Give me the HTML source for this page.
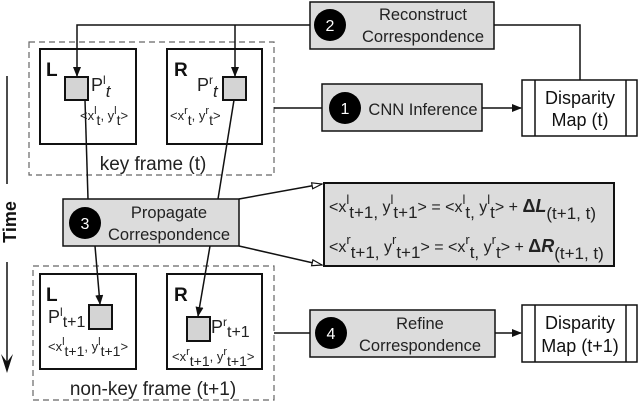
<!DOCTYPE html>
<html><head><style>
html,body{margin:0;padding:0;background:#fff;}
svg{display:block;font-family:"Liberation Sans",sans-serif;}
</style></head><body>
<svg width="640" height="402" viewBox="0 0 640 402" xmlns="http://www.w3.org/2000/svg">
<defs>
<marker id="a" markerWidth="10" markerHeight="8" refX="9" refY="4" orient="auto" markerUnits="userSpaceOnUse"><path d="M0,0 L10,4 L0,8 z" fill="#111"/></marker>
<marker id="o" markerWidth="12" markerHeight="8" refX="11" refY="4" orient="auto" markerUnits="userSpaceOnUse"><path d="M1,1 L11,4 L1,7 z" fill="#fff" stroke="#111" stroke-width="1.2"/></marker>
</defs>
<g stroke="#111" stroke-width="1.5" fill="none">
<line x1="7" y1="76" x2="7" y2="184"/>
<line x1="7" y1="262" x2="7" y2="362"/>
<path d="M1,354 L7,373 L13,354 L7,362 z" fill="#111" stroke="none"/>
<rect x="29" y="42" width="245" height="133" stroke="#666" stroke-width="1.2" stroke-dasharray="6,4"/>
<rect x="33" y="266" width="241" height="134" stroke="#666" stroke-width="1.2" stroke-dasharray="6,4"/>
<rect x="40" y="49" width="96" height="95" stroke-width="2"/>
<rect x="167" y="49" width="95" height="95" stroke-width="2"/>
<rect x="40" y="274" width="96" height="95" stroke-width="2"/>
<rect x="167" y="274" width="95" height="95" stroke-width="2"/>
<polyline points="310,25 77,25 77,76" marker-end="url(#a)"/>
<line x1="235" y1="25" x2="235" y2="76" marker-end="url(#a)"/>
<polyline points="494,25 580,25 580,80"/>
<line x1="274" y1="108" x2="322" y2="108"/>
<line x1="482" y1="108" x2="521" y2="108" marker-end="url(#a)"/>
<line x1="85" y1="100" x2="88" y2="199"/>
<line x1="234" y1="100" x2="218" y2="199"/>
<line x1="95" y1="246" x2="100" y2="304" marker-end="url(#a)"/>
<line x1="210" y1="246" x2="198" y2="316" marker-end="url(#a)"/>
<line x1="239" y1="199" x2="322" y2="184" marker-end="url(#o)"/>
<line x1="239" y1="246" x2="322" y2="265" marker-end="url(#o)"/>
<line x1="274" y1="333" x2="310" y2="333"/>
<line x1="495" y1="333" x2="521" y2="333" marker-end="url(#a)"/>
</g>
<g fill="#d4d4d4" stroke="#111" stroke-width="2">
<rect x="65" y="77" width="23" height="23"/>
<rect x="223" y="77" width="23" height="23"/>
<rect x="89" y="305" width="23" height="24"/>
<rect x="187" y="317" width="23" height="24"/>
</g>
<g fill="#dcdcdc" stroke="#111" stroke-width="1.5">
<rect x="310" y="2" width="184" height="47"/>
<rect x="322" y="84" width="160" height="47"/>
<rect x="63" y="199" width="176" height="47"/>
<rect x="310" y="310" width="185" height="47"/>
<rect x="324" y="183" width="290" height="83" stroke-width="2"/>
</g>
<g fill="#000">
<circle cx="330" cy="25" r="16"/>
<circle cx="345" cy="108" r="16"/>
<circle cx="85" cy="223" r="16"/>
<circle cx="331" cy="333" r="16"/>
</g>
<g fill="#fff" font-size="16" text-anchor="middle">
<text x="330" y="31">2</text><text x="345" y="114">1</text><text x="85" y="229">3</text><text x="331" y="339">4</text>
</g>
<g fill="#222" font-size="16.5" text-anchor="middle">
<text x="423" y="20">Reconstruct</text><text x="423" y="42">Correspondence</text>
<text x="423" y="115">CNN Inference</text>
<text x="169" y="218">Propagate</text><text x="169" y="240">Correspondence</text>
<text x="420" y="329">Refine</text><text x="420" y="351">Correspondence</text>
</g>
<g fill="#fff" stroke="#111" stroke-width="1.5">
<rect x="522" y="80" width="115" height="56"/>
<rect x="522" y="305" width="115" height="57"/>
</g>
<g stroke="#111" stroke-width="1.5">
<line x1="535" y1="80" x2="535" y2="136"/><line x1="626" y1="80" x2="626" y2="136"/>
<line x1="535" y1="305" x2="535" y2="362"/><line x1="626" y1="305" x2="626" y2="362"/>
</g>
<g fill="#111" font-size="18" text-anchor="middle">
<text x="580" y="104">Disparity</text><text x="580" y="126">Map (t)</text>
<text x="580" y="329">Disparity</text><text x="580" y="352">Map (t+1)</text>
</g>
<g fill="#222" font-size="19" text-anchor="middle">
<text x="153" y="170">key frame (t)</text>
<text x="153" y="395">non-key frame (t+1)</text>
</g>
<g fill="#111" font-weight="bold" font-size="19">
<text x="46" y="76">L</text><text x="174" y="76">R</text>
<text x="46" y="301">L</text><text x="174" y="301">R</text>
</g>
<g fill="#222" font-size="18">
<text x="91" y="91">P<tspan font-size="12" dy="-7">l</tspan><tspan font-size="17" font-style="italic" dy="13">t</tspan></text>
<text x="197" y="91">P<tspan font-size="12" dy="-7">r</tspan><tspan font-size="17" font-style="italic" dy="13">t</tspan></text>
<text x="48" y="323">P<tspan font-size="12" dy="-7">l</tspan><tspan font-size="16" dy="11">t+1</tspan></text>
<text x="211" y="333">P<tspan font-size="12" dy="-7">r</tspan><tspan font-size="16" dy="11">t+1</tspan></text>
</g>
<g fill="#222" font-size="13">
<text x="80" y="120">&lt;x<tspan dy="-6" font-size="11">l</tspan><tspan dy="11" font-size="14">t</tspan><tspan dy="-5">, y</tspan><tspan dy="-6" font-size="11">l</tspan><tspan dy="11" font-size="14">t</tspan><tspan dy="-5">&gt;</tspan></text>
<text x="170" y="120">&lt;x<tspan dy="-6" font-size="11">r</tspan><tspan dy="11" font-size="14">t</tspan><tspan dy="-5">, y</tspan><tspan dy="-6" font-size="11">r</tspan><tspan dy="11" font-size="14">t</tspan><tspan dy="-5">&gt;</tspan></text>
<text x="48" y="351">&lt;x<tspan dy="-6" font-size="11">l</tspan><tspan dy="11" font-size="14">t+1</tspan><tspan dy="-5">, y</tspan><tspan dy="-6" font-size="11">l</tspan><tspan dy="11" font-size="14">t+1</tspan><tspan dy="-5">&gt;</tspan></text>
<text x="172" y="361">&lt;x<tspan dy="-6" font-size="11">r</tspan><tspan dy="11" font-size="14">t+1</tspan><tspan dy="-5">, y</tspan><tspan dy="-6" font-size="11">r</tspan><tspan dy="11" font-size="14">t+1</tspan><tspan dy="-5">&gt;</tspan></text>
</g>
<g fill="#222" font-size="16">
<text x="329" y="212">&lt;x<tspan dy="-8" font-size="13">l</tspan><tspan dy="14" font-size="17">t+1,</tspan><tspan dy="-6"> y</tspan><tspan dy="-8" font-size="13">l</tspan><tspan dy="14" font-size="17">t+1</tspan><tspan dy="-6">&gt; =  &lt;x</tspan><tspan dy="-8" font-size="13">l</tspan><tspan dy="14" font-size="17">t,</tspan><tspan dy="-6"> y</tspan><tspan dy="-8" font-size="13">l</tspan><tspan dy="14" font-size="17">t</tspan><tspan dy="-6">&gt; + </tspan><tspan font-weight="bold" font-size="18">Δ<tspan font-style="italic">L</tspan></tspan><tspan dy="7" font-size="17">(t+1, t)</tspan></text>
<text x="329" y="252">&lt;x<tspan dy="-8" font-size="13">r</tspan><tspan dy="14" font-size="17">t+1,</tspan><tspan dy="-6"> y</tspan><tspan dy="-8" font-size="13">r</tspan><tspan dy="14" font-size="17">t+1</tspan><tspan dy="-6">&gt; =  &lt;x</tspan><tspan dy="-8" font-size="13">r</tspan><tspan dy="14" font-size="17">t,</tspan><tspan dy="-6"> y</tspan><tspan dy="-8" font-size="13">r</tspan><tspan dy="14" font-size="17">t</tspan><tspan dy="-6">&gt; + </tspan><tspan font-weight="bold" font-size="18">Δ<tspan font-style="italic">R</tspan></tspan><tspan dy="7" font-size="17">(t+1, t)</tspan></text>
</g>
<text transform="translate(16,222) rotate(-90)" text-anchor="middle" font-weight="bold" font-size="18" fill="#111">Time</text>
</svg>
</body></html>
